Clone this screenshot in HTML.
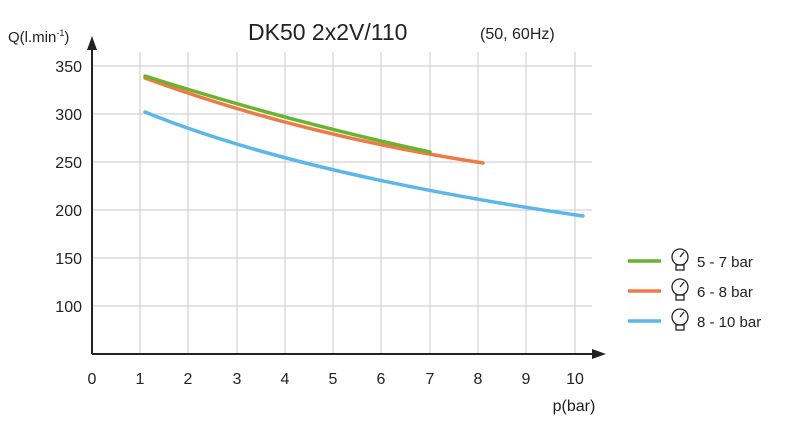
<!DOCTYPE html><html><head><style>body{margin:0;background:#fff}</style></head><body>
<svg width="800" height="418" xmlns="http://www.w3.org/2000/svg" font-family="Liberation Sans, sans-serif" fill="#222">
<g stroke="#c8c8c8" stroke-width="1">
<line x1="140" y1="52" x2="140" y2="354"/><line x1="188" y1="52" x2="188" y2="354"/><line x1="237" y1="52" x2="237" y2="354"/><line x1="285" y1="52" x2="285" y2="354"/><line x1="333" y1="52" x2="333" y2="354"/><line x1="381" y1="52" x2="381" y2="354"/><line x1="430" y1="52" x2="430" y2="354"/><line x1="478" y1="52" x2="478" y2="354"/><line x1="526" y1="52" x2="526" y2="354"/><line x1="575" y1="52" x2="575" y2="354"/>
<line x1="92" y1="66" x2="592" y2="66"/><line x1="92" y1="114" x2="592" y2="114"/><line x1="92" y1="162" x2="592" y2="162"/><line x1="92" y1="210" x2="592" y2="210"/><line x1="92" y1="258" x2="592" y2="258"/><line x1="92" y1="306" x2="592" y2="306"/>
</g>
<g stroke="#222" stroke-width="2"><line x1="92" y1="45" x2="92" y2="354"/><line x1="92" y1="354" x2="595" y2="354"/></g>
<polygon points="92,36 87,50 97,50" fill="#222"/><polygon points="606,354 592,349 592,359" fill="#222"/>
<g fill="none" stroke-width="3.5" stroke-linecap="round">
<path d="M145,112 Q300,175 583,216" stroke="#5bb6ea"/>
<path d="M145,78 Q300,135 483,163" stroke="#ef7a45"/>
<path d="M145,76 Q290,122 430,152" stroke="#6ab42d"/>
</g>
<g font-size="16" text-anchor="end"><text x="82" y="72">350</text><text x="82" y="120">300</text><text x="82" y="168">250</text><text x="82" y="216">200</text><text x="82" y="264">150</text><text x="82" y="312">100</text></g>
<g font-size="16" text-anchor="middle"><text x="92" y="384">0</text><text x="140" y="384">1</text><text x="188" y="384">2</text><text x="237" y="384">3</text><text x="285" y="384">4</text><text x="333" y="384">5</text><text x="381" y="384">6</text><text x="430" y="384">7</text><text x="478" y="384">8</text><text x="526" y="384">9</text><text x="575" y="384">10</text></g>
<text x="574" y="411" font-size="16" text-anchor="middle">p(bar)</text>
<text x="8" y="42" font-size="15">Q(l.min<tspan font-size="9" dy="-6">-1</tspan><tspan dy="6">)</tspan></text>
<text x="248" y="40" font-size="23">DK50 2x2V/110</text>
<text x="480" y="39" font-size="16">(50, 60Hz)</text>
<g stroke-width="3.5"><line x1="628" y1="261" x2="661" y2="261" stroke="#6ab42d"/><line x1="628" y1="291" x2="661" y2="291" stroke="#ef7a45"/><line x1="628" y1="321" x2="661" y2="321" stroke="#5bb6ea"/></g>
<g fill="none" stroke="#222" stroke-width="1.3">
<circle cx="680" cy="257" r="8"/><rect x="676" y="265" width="8" height="5"/><line x1="680" y1="257" x2="684" y2="252"/>
<circle cx="680" cy="287" r="8"/><rect x="676" y="295" width="8" height="5"/><line x1="680" y1="287" x2="684" y2="282"/>
<circle cx="680" cy="317" r="8"/><rect x="676" y="325" width="8" height="5"/><line x1="680" y1="317" x2="684" y2="312"/>
</g>
<g font-size="15"><text x="697" y="267">5 - 7 bar</text><text x="697" y="297">6 - 8 bar</text><text x="697" y="327">8 - 10 bar</text></g>
</svg></body></html>
